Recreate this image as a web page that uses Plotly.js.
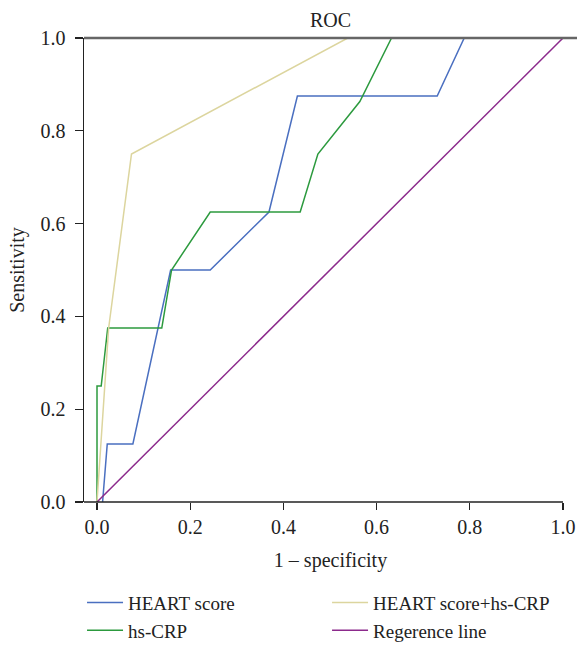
<!DOCTYPE html>
<html>
<head>
<meta charset="utf-8">
<script src="https://cdn.plot.ly/plotly-3.0.1.min.js"></script>
<style>html,body{margin:0;padding:0;background:#fff;}#chart{width:577px;height:645px;}</style>
</head>
<body>
<div id="chart"></div>
<script>
// Data
var heartX = [0.012, 0.022, 0.077, 0.158, 0.243, 0.369, 0.430, 0.730, 0.788];
var heartY = [0.0, 0.125, 0.125, 0.5, 0.5, 0.625, 0.875, 0.875, 1.0];

var crpX = [0.0, 0.0, 0.009, 0.023, 0.139, 0.160, 0.243, 0.436, 0.474, 0.564, 0.632];
var crpY = [0.0, 0.25, 0.25, 0.375, 0.375, 0.5, 0.625, 0.625, 0.75, 0.863, 1.0];

var comboX = [0.0, 0.025, 0.074, 0.538];
var comboY = [0.0, 0.375, 0.75, 1.0];

var refX = [0, 1];
var refY = [0, 1];

var tickVals = [0, 0.2, 0.4, 0.6, 0.8, 1.0];
var tickText = ["0.0", "0.2", "0.4", "0.6", "0.8", "1.0"];

var xRange = [-0.0279, 1.030];
var serif = "Liberation Serif, Times New Roman, serif";
var txt = "#222";

var traces = [
  {x: heartX, y: heartY, name: "HEART score", mode: "lines", legend: "legend",
   line: {color: "#4a6fc0", width: 1.5}},
  {x: crpX, y: crpY, name: "hs-CRP", mode: "lines", legend: "legend",
   line: {color: "#2c9a3e", width: 1.5}},
  {x: comboX, y: comboY, name: "HEART score+hs-CRP", mode: "lines", legend: "legend2",
   line: {color: "#dcd59e", width: 1.5}},
  {x: refX, y: refY, name: "Regerence line", mode: "lines", legend: "legend2",
   line: {color: "#8c2a8c", width: 1.5}}
];

var oneFrac = (1 - xRange[0]) / (xRange[1] - xRange[0]);

var legendBase = {orientation: "v", xanchor: "left", yanchor: "top", y: -0.176,
  traceorder: "normal", font: {family: serif, size: 19, color: txt},
  itemwidth: 36, tracegroupgap: 0, bgcolor: "rgba(0,0,0,0)", borderwidth: 0};

var layout = {
  width: 577, height: 645,
  margin: {l: 84, r: 0, t: 38, b: 143, autoexpand: false},
  paper_bgcolor: "#fff", plot_bgcolor: "#fff",
  font: {family: serif, size: 20, color: txt},
  title: {text: "ROC", font: {family: serif, size: 20, color: txt},
          x: 0.5, xref: "paper", xanchor: "center", y: 0.969, yanchor: "middle"},
  xaxis: {range: xRange, tickvals: tickVals, ticktext: tickText,
          showgrid: false, zeroline: false, showline: false, automargin: false,
          ticks: "outside", ticklen: 7, tickcolor: txt, tickwidth: 1.2,
          tickfont: {family: serif, size: 20, color: txt},
          title: {text: "1 – specificity", font: {family: serif, size: 20, color: txt}, standoff: 15}},
  yaxis: {range: [0, 1], tickvals: tickVals, ticktext: tickText, automargin: false,
          showgrid: false, zeroline: false, showline: true, linecolor: txt, linewidth: 1.5,
          ticks: "outside", ticklen: 8, tickcolor: txt, tickwidth: 1.2, ticklabelstandoff: 5,
          tickfont: {family: serif, size: 20, color: txt},
          title: {text: "Sensitivity", font: {family: serif, size: 20, color: txt}, standoff: 10}},
  shapes: [
    {type: "line", xref: "paper", yref: "paper", x0: 0, x1: 1, y0: 1, y1: 1,
     line: {color: "#666", width: 2.5}},
    {type: "line", xref: "paper", yref: "paper", x0: 0, x1: oneFrac, y0: 0, y1: 0,
     line: {color: txt, width: 1.5}}
  ],
  showlegend: true,
  legend: Object.assign({}, legendBase, {x: -0.004}),
  legend2: Object.assign({}, legendBase, {x: 0.493})
};

Plotly.newPlot("chart", traces, layout, {displayModeBar: false, staticPlot: true});
</script>
</body>
</html>
